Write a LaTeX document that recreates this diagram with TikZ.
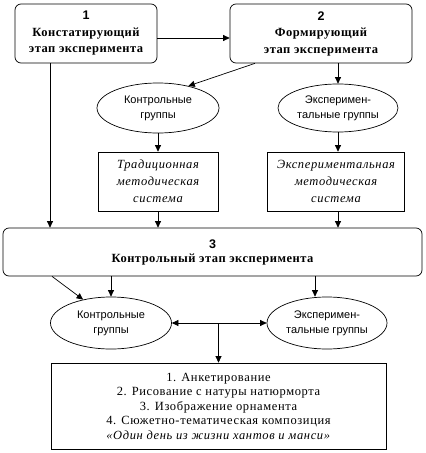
\documentclass[tikz,border=0pt]{standalone}
\usepackage{fontspec}
\setmainfont{Liberation Serif}
\setsansfont{Liberation Sans}
\newfontfamily\serifwide{Liberation Serif}[LetterSpace=4]
\newfontfamily\serifspaced{Liberation Serif}[LetterSpace=5]
\usetikzlibrary{shapes.geometric,arrows.meta}

\tikzset{
  stage/.style={draw, rounded corners=6pt, align=center, inner sep=0pt,
    font=\serifwide\bfseries\fontsize{12.5}{16.5}\selectfont},
  grp/.style={draw, ellipse, align=center, inner sep=0pt,
    font=\sffamily\fontsize{11}{15}\selectfont},
  method/.style={draw, align=center, inner sep=0pt,
    font=\serifspaced\itshape\fontsize{12.5}{17}\selectfont},
  arr/.style={-{Triangle[length=6.5pt,width=6pt]}}
}

\begin{document}
\begin{tikzpicture}[x=1pt,y=-1pt,line width=0.7pt]
\useasboundingbox (0,0) rectangle (426,453);
% stages 1 and 2
\node[stage, minimum width=142pt, minimum height=59pt] (konst) at (86,33.5)
  {{\sffamily 1}\\Констатирующий\\этап эксперимента};
\node[stage, minimum width=182pt, minimum height=59pt] (form) at (321,33.5)
  {{\sffamily 2}\\Формирующий\\этап эксперимента};
% groups and methods
\node[grp, minimum width=122pt, minimum height=50pt] (kgr) at (158,108)
  {Контрольные\\группы};
\node[grp, minimum width=120pt, minimum height=48pt] (egr) at (338,108)
  {Эксперимен-\\тальные группы};
\node[method, minimum width=120pt, minimum height=59pt] (trad) at (158,181.5)
  {Традиционная\\методическая\\система};
\node[method, minimum width=137pt, minimum height=59pt] (exper) at (336,181.5)
  {Экспериментальная\\методическая\\система};
% stage 3
\node[stage, minimum width=419pt, minimum height=48pt] (kontr) at (212.5,252)
  {{\sffamily 3}\\[-2.5pt]Контрольный этап эксперимента};
\node[grp, minimum width=121pt, minimum height=52pt] (kgr2) at (111,323)
  {Контрольные\\группы};
\node[grp, minimum width=120pt, minimum height=52pt] (egr2) at (327,323)
  {Эксперимен-\\тальные группы};
% tasks
\node[draw, align=center, inner sep=0pt, minimum width=335pt, minimum height=86pt,
  font=\serifspaced\fontsize{12.5}{14.5}\selectfont] (tasks) at (218.5,406)
  {1. Анкетирование\\2. Рисование с натуры натюрморта\\3. Изображение орнамента\\
   4. Сюжетно-тематическая композиция\\\textit{«Один день из жизни хантов и манси»}};
% connectors
\draw[arr] (konst.east |- 0,38) -- (form.west |- 0,38);
\draw[arr] (konst.south -| 50,0) -- (kontr.north -| 50,0);
\draw[arr] (form.south -| 255,0) -- (kgr.36);
\draw[arr] (egr.north |- form.south) -- (egr.north);
\draw[arr] (kgr.south) -- (trad.north);
\draw[arr] (egr.south) -- (egr.south |- exper.north);
\draw[arr] (trad.south) -- (trad.south |- kontr.north);
\draw[arr] (egr.south |- exper.south) -- (egr.south |- kontr.north);
\draw[arr] (kontr.south -| 52,0) -- (kgr2.140);
\draw[arr] (kgr2.north |- kontr.south) -- (kgr2.north);
\draw[arr] (kontr.south -| 315,0) -- (egr2.north -| 315,0);
\draw[{Triangle[length=6.5pt,width=6pt]}-{Triangle[length=6.5pt,width=6pt]}]
  (kgr2.east) -- (egr2.west);
\draw[arr] (tasks.north |- kgr2.east) -- (tasks.north);
\end{tikzpicture}
\end{document}
